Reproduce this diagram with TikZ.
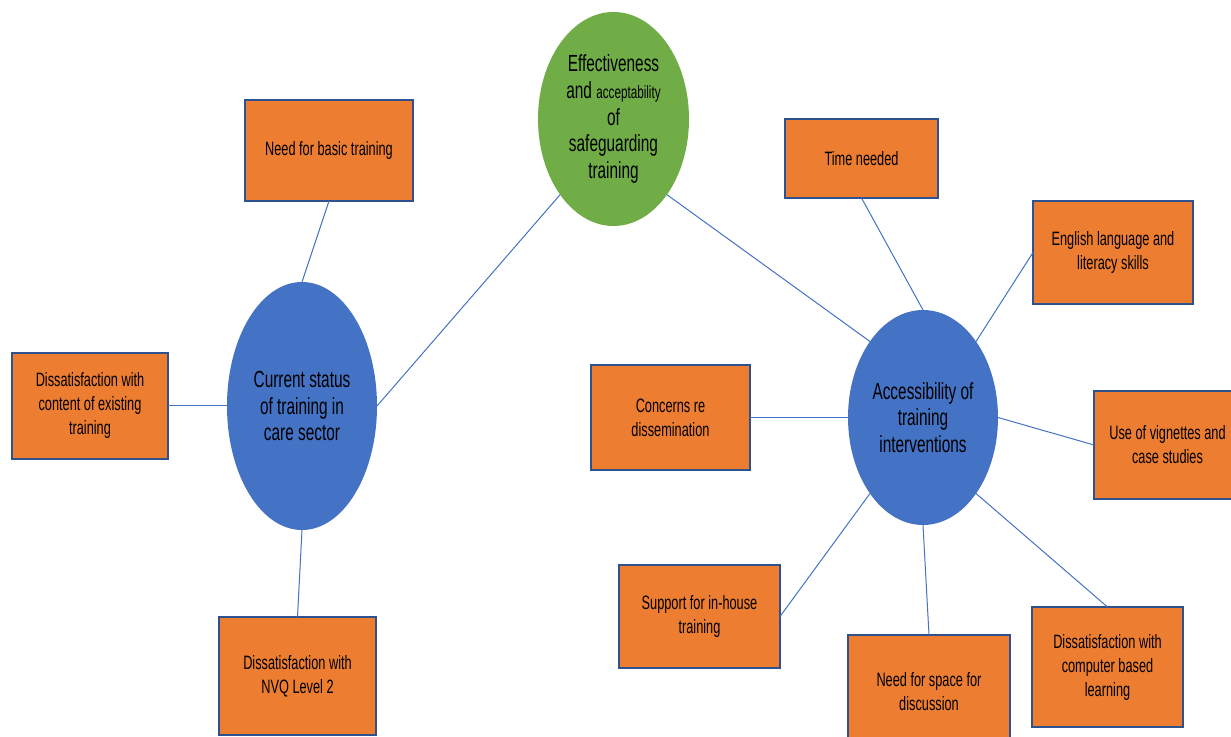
\documentclass[tikz,border=0pt]{standalone}
\usepackage{fontspec}
\setmainfont{Liberation Sans}[FakeStretch=0.66]
\usetikzlibrary{shapes.geometric}
\definecolor{boxorange}{HTML}{ED7D31}
\definecolor{boxborder}{HTML}{2F528F}
\definecolor{ellblue}{HTML}{4472C4}
\definecolor{ellgreen}{HTML}{70AD47}
\definecolor{linkblue}{HTML}{4472C4}
\tikzset{
  topicbox/.style={rectangle, fill=boxorange, draw=boxborder, line width=1.2pt,
    inner sep=0pt, outer sep=0pt, align=center, text=black,
    font=\fontsize{14.5}{18}\selectfont},
  themeell/.style={ellipse, fill=ellblue, draw=none, inner sep=0pt, outer sep=0pt,
    align=center, text=black, minimum width=112.5pt,
    font=\fontsize{17.5}{20}\selectfont},
  link/.style={draw=linkblue, line width=0.75pt}
}
\begin{document}
\begin{tikzpicture}[x=0.75pt,y=-0.75pt]
\useasboundingbox (0,0) rectangle (1231,737);
\clip (0,0) rectangle (1231,737);
% central theme
\node[themeell, fill=ellgreen, minimum width=113.25pt, minimum height=160.5pt] (eff) at (613.5,119)
  {Effectiveness\\and {\fontsize{13.3}{20}\selectfont acceptability}\\of\\safeguarding\\training};
% sub themes
\node[themeell, minimum height=186pt] (cur) at (302,406)
  {Current status\\of training in\\care sector};
\node[themeell, minimum height=161.25pt] (acc) at (923,417.5)
  {Accessibility of\\training\\interventions};
% boxes left
\node[topicbox, minimum width=126pt, minimum height=75.75pt] (basic) at (329,150.5)
  {Need for basic training};
\node[topicbox, minimum width=117pt, minimum height=79.5pt] (content) at (90,406)
  {Dissatisfaction with\\content of existing\\training};
\node[topicbox, minimum width=117.75pt, minimum height=88.5pt] (nvq) at (297.5,676)
  {Dissatisfaction with\\NVQ Level 2};
% boxes right
\node[topicbox, minimum width=114.75pt, minimum height=59.25pt] (time) at (861.5,158.5)
  {Time needed};
\node[topicbox, minimum width=120pt, minimum height=77.25pt] (eng) at (1113,252.5)
  {English language and\\literacy skills};
\node[topicbox, minimum width=119.25pt, minimum height=78.75pt] (conc) at (670.5,417.5)
  {Concerns re\\dissemination};
\node[topicbox, minimum width=110.25pt, minimum height=81pt] (vign) at (1167.5,445)
  {Use of vignettes and\\case studies};
\node[topicbox, minimum width=120.75pt, minimum height=77.25pt] (supp) at (699.5,616.5)
  {Support for in-house\\training};
\node[topicbox, minimum width=121.5pt, minimum height=85.5pt] (space) at (929,692)
  {Need for space for\\discussion};
\node[topicbox, minimum width=113.25pt, minimum height=90pt] (comp) at (1107.5,667)
  {Dissatisfaction with\\computer based\\learning};
% connectors
\draw[link] (eff.south west) -- (cur.east);
\draw[link] (eff.south east) -- (acc.north west);
\draw[link] (basic.south) -- (cur.north);
\draw[link] (content.east) -- (cur.west);
\draw[link] (nvq.north) -- (cur.south);
\draw[link] (time.south) -- (acc.north);
\draw[link] (eng.west) -- (acc.north east);
\draw[link] (conc.east) -- (acc.west);
\draw[link] (vign.west) -- (acc.east);
\draw[link] (supp.east) -- (acc.south west);
\draw[link] (space.north) -- (acc.south);
\draw[link] (comp.north) -- (acc.south east);
\end{tikzpicture}
\end{document}
